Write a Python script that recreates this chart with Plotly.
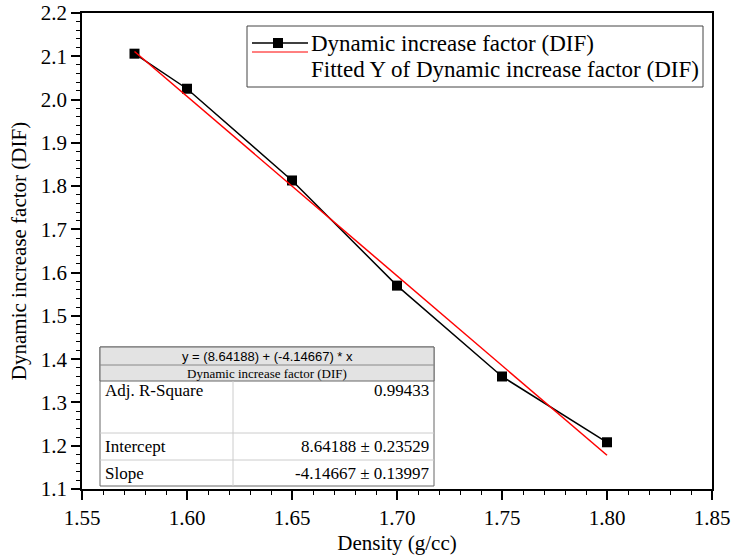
import plotly.graph_objects as go

# ---- data ----
density = [1.575, 1.60, 1.65, 1.70, 1.75, 1.80]
dif = [2.106, 2.025, 1.813, 1.570, 1.360, 1.208]
fit_x = [1.575, 1.80]
fit_y = [2.111, 1.178]

series_name = "Dynamic increase factor (DIF)"
fit_name = "Fitted Y of Dynamic increase factor (DIF)"
equation = "y = (8.64188) + (-4.14667) * x"
table_rows = [
    ("Adj. R-Square", "0.99433"),
    ("Intercept", "8.64188 \u00b1 0.23529"),
    ("Slope", "-4.14667 \u00b1 0.13997"),
]

W, H = 731, 555
L, R, T, B = 82, 19, 13, 66
PW, PH = W - L - R, H - T - B


def px(x):
    return (x - L) / PW


def py(y):
    return (H - B - y) / PH


SERIF = "Liberation Serif, Times New Roman, serif"
SANS = "Liberation Sans, Arial, sans-serif"

fig = go.Figure()
fig.add_trace(go.Scatter(x=density, y=dif, mode="lines+markers", name=series_name,
                         line=dict(color="black", width=1.5),
                         marker=dict(symbol="square", size=10, color="black"),
                         showlegend=False, cliponaxis=False))
fig.add_trace(go.Scatter(x=fit_x, y=fit_y, mode="lines", name=fit_name,
                         line=dict(color="red", width=1.5), showlegend=False))

shapes = []
annotations = []

# ---- legend (drawn) ----
shapes.append(dict(type="rect", xref="paper", yref="paper",
                   x0=px(247), x1=px(703), y0=py(87), y1=py(26),
                   line=dict(color="#444444", width=1), fillcolor="white", layer="above"))
shapes.append(dict(type="line", xref="paper", yref="paper",
                   x0=px(252), x1=px(308), y0=py(43), y1=py(43),
                   line=dict(color="black", width=1.5), layer="above"))
shapes.append(dict(type="rect", xref="paper", yref="paper",
                   x0=px(273), x1=px(283), y0=py(48), y1=py(38),
                   line=dict(color="black", width=0), fillcolor="black", layer="above"))
shapes.append(dict(type="line", xref="paper", yref="paper",
                   x0=px(252), x1=px(308), y0=py(52), y1=py(52),
                   line=dict(color="red", width=1), layer="above"))
annotations.append(dict(xref="paper", yref="paper", x=px(309), y=py(43), text=series_name,
                        showarrow=False, xanchor="left", yanchor="middle",
                        font=dict(family=SERIF, size=23, color="black")))
annotations.append(dict(xref="paper", yref="paper", x=px(309), y=py(69), text=fit_name,
                        showarrow=False, xanchor="left", yanchor="middle",
                        font=dict(family=SERIF, size=23, color="black")))

# ---- fit table (drawn) ----
tl, tr, tdiv = 100, 434, 233
r0, r1, r2, r3, r4, r5 = 347, 365, 381, 433, 460, 486
shapes.append(dict(type="rect", xref="paper", yref="paper",
                   x0=px(tl), x1=px(tr), y0=py(r5), y1=py(r0),
                   line=dict(color="#666666", width=1), fillcolor="white", layer="above"))
shapes.append(dict(type="rect", xref="paper", yref="paper",
                   x0=px(tl), x1=px(tr), y0=py(r2), y1=py(r0),
                   line=dict(color="#666666", width=1), fillcolor="#e3e3e3", layer="above"))
shapes.append(dict(type="line", xref="paper", yref="paper",
                   x0=px(tl), x1=px(tr), y0=py(r1), y1=py(r1),
                   line=dict(color="#888888", width=1), layer="above"))
for yy in (r3, r4):
    shapes.append(dict(type="line", xref="paper", yref="paper",
                       x0=px(tl), x1=px(tr), y0=py(yy), y1=py(yy),
                       line=dict(color="#cccccc", width=1), layer="above"))
shapes.append(dict(type="line", xref="paper", yref="paper",
                   x0=px(tdiv), x1=px(tdiv), y0=py(r5), y1=py(r2),
                   line=dict(color="#cccccc", width=1), layer="above"))
annotations.append(dict(xref="paper", yref="paper", x=px((tl + tr) / 2), y=py((r0 + r1) / 2),
                        text=equation, showarrow=False, xanchor="center", yanchor="middle",
                        font=dict(family=SANS, size=13, color="black")))
annotations.append(dict(xref="paper", yref="paper", x=px((tl + tr) / 2), y=py((r1 + r2) / 2),
                        text=series_name, showarrow=False, xanchor="center", yanchor="middle",
                        font=dict(family=SERIF, size=13, color="black")))
row_y = [390, 446, 473]
for (lab, val), yy in zip(table_rows, row_y):
    annotations.append(dict(xref="paper", yref="paper", x=px(tl + 3), y=py(yy), text=lab,
                            showarrow=False, xanchor="left", yanchor="middle",
                            font=dict(family=SERIF, size=17, color="black")))
    annotations.append(dict(xref="paper", yref="paper", x=px(tr - 3), y=py(yy), text=val,
                            showarrow=False, xanchor="right", yanchor="middle",
                            font=dict(family=SERIF, size=17, color="black")))

axis_common = dict(showgrid=False, zeroline=False, showline=True, linecolor="black",
                   linewidth=1.5, mirror=True, ticks="outside", ticklen=9, tickwidth=1.5,
                   tickcolor="black", automargin=False,
                   tickfont=dict(family=SERIF, size=21, color="black"))

fig.update_layout(
    width=W, height=H,
    margin=dict(l=L, r=R, t=T, b=B),
    paper_bgcolor="white", plot_bgcolor="white",
    font=dict(family=SERIF, color="black"),
    xaxis=dict(range=[1.55, 1.85], dtick=0.05, tick0=1.55, tickformat=".2f",
               title=dict(text="Density (g/cc)", font=dict(family=SERIF, size=21, color="black"),
                          standoff=6),
               minor=dict(dtick=0.01, ticks="outside", ticklen=4, tickwidth=1.2, tickcolor="black"),
               **axis_common),
    yaxis=dict(range=[1.1, 2.2], dtick=0.1, tick0=1.1, tickformat=".1f",
               title=dict(text="Dynamic increase factor (DIF)",
                          font=dict(family=SERIF, size=21, color="black"), standoff=8),
               minor=dict(dtick=0.02, ticks="outside", ticklen=4, tickwidth=1.2, tickcolor="black"),
               **axis_common),
    shapes=shapes,
    annotations=annotations,
    showlegend=False,
)

fig.write_html(
    "out.html",
    config={"displayModeBar": False},
    post_script="document.body.style.margin='0';document.body.style.overflow='hidden';",
)
